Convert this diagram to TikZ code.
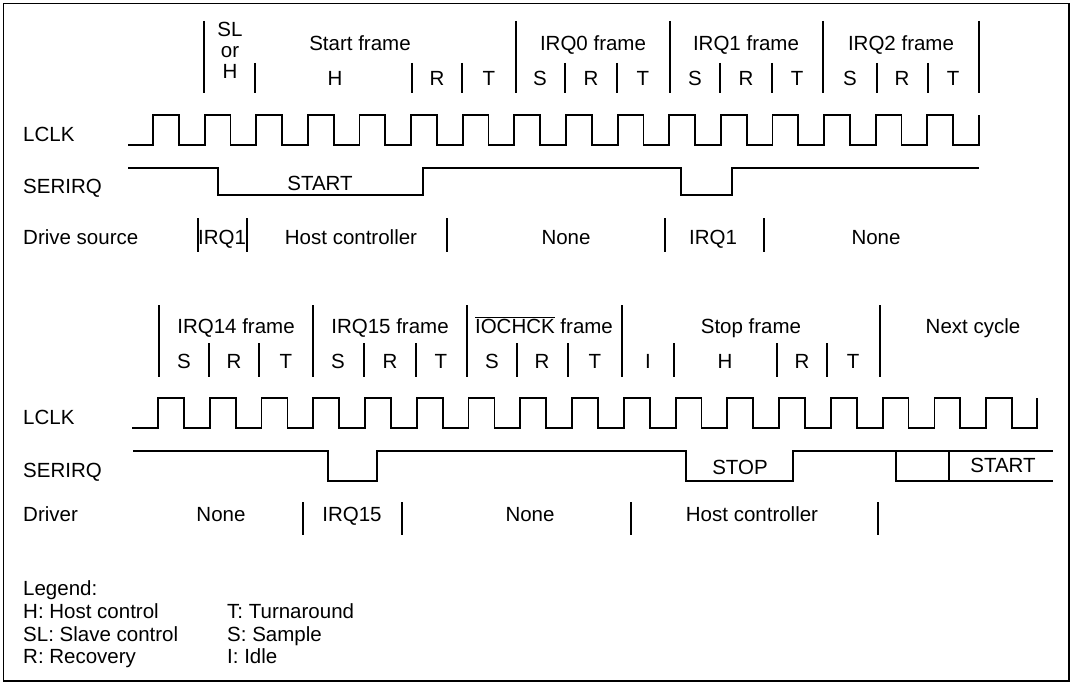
\documentclass[tikz,border=0pt]{standalone}
\usepackage{fontspec}
\setmainfont{Liberation Sans}
\usetikzlibrary{positioning}
\tikzset{
  sig/.style={line width=1.8pt,line join=miter},
  tick/.style={line width=1.3pt},
  lbl/.style={anchor=base,inner sep=0pt,font=\fontsize{20.5}{24}\selectfont}
}

\begin{document}
\begin{tikzpicture}[x=1pt,y=-1pt]
  \useasboundingbox (0,0) rectangle (1073,685);
  \draw[line width=1.5pt] (3.5,3.5) rectangle (1069,681);

  % first half of the cycle
  \node[lbl,anchor=base west] (lclkA) at (23,141) {LCLK};
  \node[lbl,anchor=base west] (serA) at (23,193) {SERIRQ};
  \node[lbl,anchor=base west] (drvA) at (23,244) {Drive source};

  \foreach \x in {204,516,670,823,979}
    \draw[tick] (\x,21) -- (\x,93);
  \foreach \x in {255,412,462,565,617,720,772,877,928}
    \draw[tick] (\x,63) -- (\x,93);

  \node[lbl,anchor=north,align=center,font=\fontsize{20.5}{21}\selectfont]
    (slor) at (230,22) {SL\\or\\H};
  \foreach \x/\t [count=\i] in {360/Start frame,593/IRQ0 frame,746/IRQ1 frame,901/IRQ2 frame}
    \node[lbl] (frA\i) at (\x,51) {\t};
  \foreach \x/\t [count=\i] in {335/H,437/R,489/T,540/S,591/R,643/T,695/S,746/R,797/T,850/S,902/R,953/T}
    \node[lbl] (phA\i) at (\x,85) {\t};

  \draw[sig] (128,145) foreach \k in {0,...,15}{
      -- ({153+51.625*\k},145) -- ({153+51.625*\k},115)
      -- ({178.8+51.625*\k},115) -- ({178.8+51.625*\k},145)}
    -- (979,145) -- (979,115);

  \draw[sig] (128,168) -- (218,168) -- (218,195) -- (423,195) -- (423,168)
    -- (681,168) -- (681,195) -- (732,195) -- (732,168) -- (979,168);
  \node[lbl] (startA) at (320,190) {START};

  \foreach \x in {198,247,447,665,764}
    \draw[tick] (\x,218) -- (\x,252);
  \foreach \x/\t [count=\i] in {222/IRQ1,351/Host controller,566/None,713/IRQ1,876/None}
    \node[lbl] (dsA\i) at (\x,244) {\t};

  % second half of the cycle
  \node[lbl,anchor=base west] (lclkB) at (23,424) {LCLK};
  \node[lbl,anchor=base west] (serB) at (23,477) {SERIRQ};
  \node[lbl,anchor=base west] (drvB) at (23,521) {Driver};

  \foreach \x in {159,313,467,622,880}
    \draw[tick] (\x,305) -- (\x,377);
  \foreach \x in {209,259,364,416,517,568,674,777,827}
    \draw[tick] (\x,343) -- (\x,377);

  \foreach \x/\t [count=\i] in {236/IRQ14 frame,390/IRQ15 frame,751/Stop frame,973/Next cycle}
    \node[lbl] (frB\i) at (\x,333) {\t};
  \node[lbl] (frIO) at (544,333) {$\overline{\hbox{IOCHCK}}$ frame};
  \foreach \x/\t [count=\i] in {184/S,234/R,286/T,338/S,390/R,441/T,492/S,542/R,595/T,648/I,725/H,802/R,853/T}
    \node[lbl] (phB\i) at (\x,368) {\t};

  \draw[sig] (132,428) foreach \k in {0,...,16}{
      -- ({158+51.76*\k},428) -- ({158+51.76*\k},398)
      -- ({183.9+51.76*\k},398) -- ({183.9+51.76*\k},428)}
    -- (1037,428) -- (1037,398);

  \draw[sig] (133,451) -- (328,451) -- (328,481) -- (377,481) -- (377,451)
    -- (686,451) -- (686,481) -- (793,481) -- (793,451) -- (1053,451);
  \draw[sig] (896,451) -- (896,481) -- (1053,481);
  \draw[sig] (949,451) -- (949,481);
  \node[lbl] (stopB) at (740,474) {STOP};
  \node[lbl] (startB) at (1003,472) {START};

  \foreach \x in {303,402,631,878}
    \draw[tick] (\x,502) -- (\x,535);
  \foreach \x/\t [count=\i] in {221/None,352/IRQ15,530/None,752/Host controller}
    \node[lbl] (dsB\i) at (\x,521) {\t};

  % legend
  \foreach \y/\a/\b [count=\i] in {618/H: Host control/T: Turnaround,641/SL: Slave control/S: Sample,663/R: Recovery/I: Idle}{
    \node[lbl,anchor=base west] (lgA\i) at (23,\y) {\a};
    \node[lbl,anchor=base west] (lgB\i) at (227,\y) {\b};
  }
  \node[lbl,anchor=base west] (lgT) at (23,595) {Legend:};
\end{tikzpicture}
\end{document}
